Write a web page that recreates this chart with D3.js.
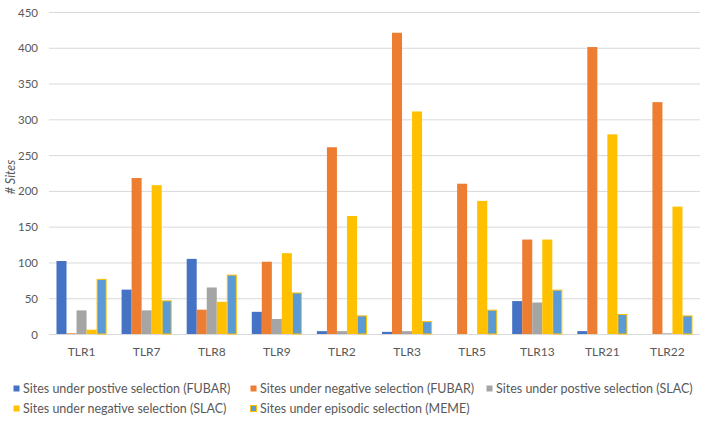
<!DOCTYPE html>
<html>
<head>
<meta charset="utf-8">
<script src="https://cdn.jsdelivr.net/npm/d3@7"></script>
<style>
  html, body { margin: 0; padding: 0; background: #fff; }
  svg { display: block; font-family: Lato, "Noto Sans", sans-serif; }
</style>
</head>
<body>
<svg id="chart" width="708" height="424"></svg>
<script>
const categories = ["TLR1", "TLR7", "TLR8", "TLR9", "TLR2", "TLR3", "TLR5", "TLR13", "TLR21", "TLR22"];
const seriesNames = [
  "Sites under postive selection (FUBAR)",
  "Sites under negative selection (FUBAR)",
  "Sites under postive selection (SLAC)",
  "Sites under negative selection (SLAC)",
  "Sites under episodic selection (MEME)"
];
const posFUBAR = [102, 62, 105, 31, 4, 3, 0, 46, 4, 0];
const negFUBAR = [1, 218, 34, 101, 261, 421, 210, 132, 401, 324];
const posSLAC  = [33, 33, 65, 21, 4, 4, 0, 44, 0, 1];
const negSLAC  = [6, 208, 45, 113, 165, 311, 186, 132, 279, 178];
const meme     = [77, 47, 83, 58, 26, 18, 34, 62, 28, 26];
const yTicks = [0, 50, 100, 150, 200, 250, 300, 350, 400, 450];

const seriesValues = [posFUBAR, negFUBAR, posSLAC, negSLAC, meme];
const fills   = ["#4472C4", "#ED7D31", "#A5A5A5", "#FFC000", "#5B9BD5"];
const strokes = [null, null, null, null, "#FFC000"];

(function () {
const svg = d3.select("#chart");
const mLeft = 49, mRight = 700, mTop = 12, mBottom = 334;
const textColor = "#595959";
const fam = "Lato, 'Noto Sans', sans-serif";

const x = d3.scaleBand().domain(categories).range([mLeft, mRight]).paddingInner(0.23).paddingOuter(0.115);
const xs = d3.scaleBand().domain(d3.range(seriesNames.length)).range([0, x.bandwidth()]);
const y = d3.scaleLinear().domain([0, 450]).range([mBottom, mTop]);

svg.append("g").selectAll("line").data(yTicks).join("line")
  .attr("x1", mLeft).attr("x2", mRight)
  .attr("y1", d => y(d) + 0.5).attr("y2", d => y(d) + 0.5)
  .attr("stroke", "#d9d9d9").attr("stroke-width", 1);

const yAxis = d3.axisLeft(y).tickValues(yTicks).tickSize(0).tickPadding(0);
const gy = svg.append("g").attr("transform", `translate(${mLeft - 11},0)`).call(yAxis);
gy.select(".domain").remove();
gy.selectAll("text").attr("fill", textColor).style("font-size", "11.5px").style("font-family", fam).attr("dy", "0.35em");

seriesValues.forEach((vals, si) => {
  const s = strokes[si];
  svg.append("g").selectAll("rect").data(vals).join("rect")
    .attr("x", (d, i) => x(categories[i]) + xs(si) + (s ? 0.5 : 0))
    .attr("width", xs.bandwidth() - (s ? 1 : 0))
    .attr("y", d => y(d) + (s && d > 0 ? 0.5 : 0))
    .attr("height", d => Math.max(0, mBottom - y(d) - (s && d > 0 ? 0.5 : 0)))
    .attr("fill", fills[si])
    .attr("stroke", d => (s && d > 0) ? s : "none")
    .attr("stroke-width", 1);
});

const xAxis = d3.axisBottom(x).tickSize(0).tickPadding(0);
const gx = svg.append("g").attr("transform", `translate(0,${mBottom + 18})`).call(xAxis);
gx.select(".domain").remove();
gx.selectAll("text").attr("fill", textColor).style("font-size", "12px").style("font-family", fam).attr("dy", "0.35em");

svg.append("text")
  .attr("transform", `translate(11,${(mTop + mBottom) / 2 + 4}) rotate(-90)`)
  .attr("text-anchor", "middle")
  .attr("dy", "0.35em")
  .attr("fill", textColor)
  .style("font-size", "12.5px")
  .style("font-style", "italic")
  .text("# Sites");

const legendPos = [[13, 389], [250, 389], [486, 389], [13, 409], [250, 409]];
const lg = svg.append("g").selectAll("g").data(seriesNames).join("g")
  .attr("transform", (d, i) => `translate(${legendPos[i][0]},${legendPos[i][1]})`);
lg.append("rect")
  .attr("x", 0.5).attr("y", -3.5).attr("width", 6).attr("height", 6)
  .attr("fill", (d, i) => fills[i])
  .attr("stroke", (d, i) => strokes[i] || "none");
lg.append("text")
  .attr("x", 10).attr("y", 0).attr("dy", "0.35em")
  .attr("fill", textColor)
  .style("font-size", "12.5px")
  .text(d => d);
})();
</script>
</body>
</html>
